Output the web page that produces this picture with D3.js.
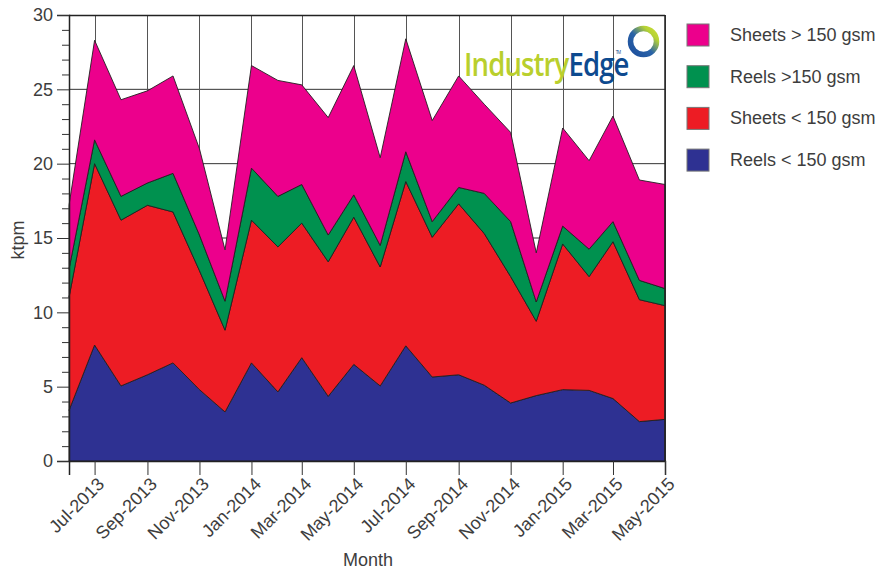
<!DOCTYPE html>
<html>
<head>
<meta charset="utf-8">
<script src="https://cdn.jsdelivr.net/npm/d3@7"></script>
<style>
  html, body { margin: 0; padding: 0; background: #fff; }
  svg { display: block; font-family: "Liberation Sans", Arial, sans-serif; }
</style>
</head>
<body>
<svg id="chart" width="888" height="569"></svg>
<script>
// Monthly volumes (ktpm), June 2013 – May 2015
const months = [
  "2013-06", "2013-07", "2013-08", "2013-09", "2013-10", "2013-11", "2013-12",
  "2014-01", "2014-02", "2014-03", "2014-04", "2014-05", "2014-06", "2014-07",
  "2014-08", "2014-09", "2014-10", "2014-11", "2014-12",
  "2015-01", "2015-02", "2015-03", "2015-04", "2015-05"
];
const reelsUnder150 = [3.4, 7.8, 5.05, 5.8, 6.6, 4.8, 3.3, 6.6, 4.65, 6.95, 4.35, 6.5,
  5.05, 7.75, 5.65, 5.8, 5.1, 3.9, 4.4, 4.8, 4.75, 4.2, 2.65, 2.8];
const sheetsUnder150 = [7.6, 12.2, 11.15, 11.4, 10.15, 8.0, 5.5, 9.6, 9.75, 9.05, 9.05, 9.9,
  8.0, 11.05, 9.4, 11.5, 10.2, 8.5, 5.0, 9.8, 7.65, 10.55, 8.2, 7.65];
const reelsOver150 = [1.9, 1.6, 1.6, 1.5, 2.6, 2.4, 1.95, 3.5, 3.4, 2.6, 1.8, 1.5,
  1.45, 2.0, 1.05, 1.1, 2.7, 3.7, 1.3, 1.2, 1.85, 1.35, 1.3, 1.15];
const sheetsOver150 = [4.3, 6.7, 6.5, 6.2, 6.55, 5.8, 3.45, 6.9, 7.8, 6.7, 7.9, 8.7,
  5.9, 7.6, 6.8, 7.5, 6.0, 6.0, 3.3, 6.6, 5.95, 7.1, 6.75, 7.0];

const seriesKeys = ["reelsUnder", "sheetsUnder", "reelsOver", "sheetsOver"];
const seriesNames = ["Reels < 150 gsm", "Sheets < 150 gsm", "Reels >150 gsm", "Sheets > 150 gsm"];
const seriesColors = ["#2e3192", "#ed1c24", "#00914f", "#ec008c"];
const yTickValues = [0, 5, 10, 15, 20, 25, 30];

const parseMonth = d3.timeParse("%Y-%m");
const rows = months.map((m, i) => ({
  date: parseMonth(m),
  reelsUnder: reelsUnder150[i],
  sheetsUnder: sheetsUnder150[i],
  reelsOver: reelsOver150[i],
  sheetsOver: sheetsOver150[i]
}));

const svg = d3.select("#chart");
const plotLeft = 69, plotRight = 665, plotTop = 15, plotBottom = 461;

const x = d3.scaleTime()
  .domain(d3.extent(rows, d => d.date))
  .range([plotLeft, plotRight]);
const y = d3.scaleLinear().domain([0, 30]).range([plotBottom, plotTop]);

const xTicks = rows.filter((d, i) => i % 2 === 1).map(d => d.date);
const textColor = "#3d3d3d";

// gridlines
const grid = svg.append("g");
grid.selectAll("line.h").data([5, 10, 15, 20, 25]).join("line")
  .attr("x1", plotLeft).attr("x2", plotRight)
  .attr("y1", d => y(d)).attr("y2", d => y(d))
  .attr("stroke", "#333").attr("stroke-width", 1);
grid.selectAll("line.v").data(xTicks).join("line")
  .attr("x1", d => Math.round(x(d)) + 0.5).attr("x2", d => Math.round(x(d)) + 0.5)
  .attr("y1", plotTop).attr("y2", plotBottom)
  .attr("stroke", "#555").attr("stroke-width", 1);

// stacked areas
const stack = d3.stack().keys(seriesKeys);
const layers = stack(rows);
const area = d3.area()
  .x(d => x(d.data.date))
  .y0(d => y(d[0]))
  .y1(d => y(d[1]));

svg.append("g").selectAll("path").data(layers).join("path")
  .attr("d", area)
  .attr("fill", (d, i) => seriesColors[i])
  .attr("stroke", "#231f20")
  .attr("stroke-width", 0.9)
  .attr("stroke-linejoin", "round");

// frame
svg.append("line").attr("x1", plotLeft).attr("x2", plotRight).attr("y1", plotTop + 0.5).attr("y2", plotTop + 0.5)
  .attr("stroke", "#222").attr("stroke-width", 1.5);
svg.append("line").attr("x1", plotRight).attr("x2", plotRight).attr("y1", plotTop).attr("y2", plotBottom)
  .attr("stroke", "#222").attr("stroke-width", 1.5);

// y axis
const yAxis = d3.axisLeft(y).tickValues(yTickValues).tickSize(12).tickPadding(4);
const gy = svg.append("g").attr("transform", `translate(${plotLeft},0)`).call(yAxis);
gy.select(".domain").attr("stroke", "#222").attr("stroke-width", 1.5);
gy.selectAll(".tick line").attr("stroke", "#333");
gy.selectAll(".tick text").attr("font-size", 18).attr("fill", textColor)
  .attr("font-family", "Liberation Sans, Arial, sans-serif");
const yMinor = d3.axisLeft(y).tickValues(d3.range(0, 31).filter(v => v % 5 !== 0)).tickSize(7).tickFormat("");
const gym = svg.append("g").attr("transform", `translate(${plotLeft},0)`).call(yMinor);
gym.select(".domain").remove();
gym.selectAll(".tick line").attr("stroke", "#333");

// x axis
const xAxis = d3.axisBottom(x).tickValues(xTicks).tickSize(14).tickFormat(d3.timeFormat("%b-%Y"));
const gx = svg.append("g").attr("transform", `translate(0,${plotBottom})`).call(xAxis);
gx.select(".domain").attr("stroke", "#222").attr("stroke-width", 1.5);
gx.selectAll(".tick line").attr("stroke", "#333");
gx.selectAll(".tick text")
  .attr("font-size", 18).attr("fill", textColor)
  .attr("font-family", "Liberation Sans, Arial, sans-serif")
  .attr("text-anchor", "end")
  .attr("dy", null).attr("y", null)
  .attr("transform", "translate(6,20) rotate(-45)")
  .attr("dominant-baseline", "central");

// axis titles
svg.append("text").attr("x", (plotLeft + plotRight) / 2 + 1).attr("y", 566)
  .attr("text-anchor", "middle").attr("font-size", 18).attr("fill", textColor).text("Month");
svg.append("text").attr("transform", `translate(24,${(plotTop + plotBottom) / 2 + 2}) rotate(-90)`)
  .attr("text-anchor", "middle").attr("font-size", 18).attr("fill", textColor).text("ktpm");

// legend
const legendOrder = [3, 2, 1, 0];
const legend = svg.append("g").attr("transform", "translate(687,24)");
legendOrder.forEach((si, row) => {
  const g = legend.append("g").attr("transform", `translate(0,${row * 41.7})`);
  g.append("rect").attr("width", 22).attr("height", 22)
    .attr("fill", seriesColors[si]).attr("stroke", "#777").attr("stroke-width", 1);
  g.append("text").attr("x", 43).attr("y", 11).attr("dominant-baseline", "central")
    .attr("font-size", 18).attr("fill", textColor).text(seriesNames[si]);
});

// brand mark: ring plus word mark
const defs = svg.append("defs");
const grad = defs.append("linearGradient").attr("id", "ringGrad")
  .attr("x1", "0%").attr("y1", "100%").attr("x2", "100%").attr("y2", "0%");
grad.append("stop").attr("offset", "0%").attr("stop-color", "#1d4f9c");
grad.append("stop").attr("offset", "45%").attr("stop-color", "#2a63a8");
grad.append("stop").attr("offset", "80%").attr("stop-color", "#b7d334");
grad.append("stop").attr("offset", "100%").attr("stop-color", "#c8dc3a");
svg.append("circle").attr("cx", 643.5).attr("cy", 41.5).attr("r", 13)
  .attr("fill", "none").attr("stroke", "url(#ringGrad)").attr("stroke-width", 5.5);
const brand = svg.append("g").attr("transform", "translate(464,76) scale(0.86,1)")
  .append("text").attr("x", 0).attr("y", 0)
  .attr("font-family", "Open Sans, Noto Sans, sans-serif").attr("font-size", 32)
  .attr("font-weight", 600).attr("letter-spacing", -1);
brand.append("tspan").attr("fill", "#b9cf2d").text("Industry");
brand.append("tspan").attr("fill", "#0d4a8f").text("Edge");
brand.append("tspan").attr("fill", "#0d4a8f").attr("font-size", 5).attr("font-weight", 400)
  .attr("dx", -15).attr("dy", -22).text("TM");
</script>
</body>
</html>
